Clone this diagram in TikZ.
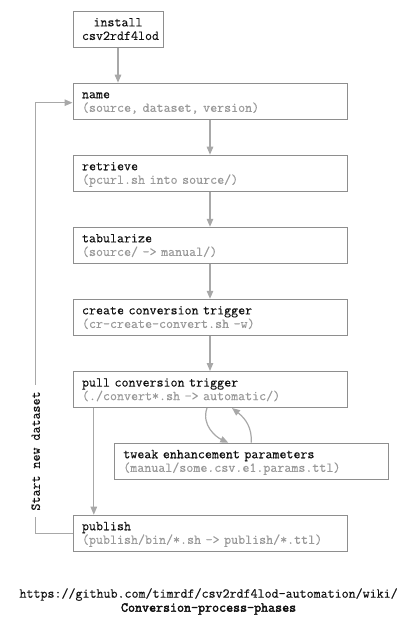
\documentclass[tikz,border=0pt]{standalone}
\usepackage{fontspec}
\newfontfamily\monoreg{Latin Modern Mono}[FakeBold=0.25]
\newfontfamily\monobold{Latin Modern Mono}[FakeBold=2.6]
\usetikzlibrary{arrows.meta,calc}
\definecolor{boxc}{HTML}{8E8E8E}
\definecolor{arrc}{HTML}{A8A8A8}
\definecolor{subc}{HTML}{999999}
\definecolor{titc}{HTML}{111111}
\newcommand{\mono}{\monoreg\fontsize{13.6}{13.6}\selectfont}
\newcommand{\hstrut}{\rule{0pt}{11pt}}
\newcommand{\dstrut}{\rule[-3.3pt]{0pt}{3.3pt}}
\tikzset{
  stepbox/.style={draw=boxc, line width=1pt, fill=white, font=\mono, text=titc,
    align=left, inner xsep=9pt, inner ysep=0pt, minimum height=36pt, text width=256pt},
  arr/.style={draw=arrc, line width=1.2pt, -{Triangle[length=8pt,width=6.5pt]}},
}
\newcommand{\sub}[1]{\textcolor{subc}{#1}\dstrut}
\begin{document}
\begin{tikzpicture}[x=1pt,y=-1pt]
\useasboundingbox (0,0) rectangle (419,625);
\node[stepbox, text width=72pt, align=center] (install) at (118,29.3) {\hstrut install\\csv2rdf4lod\dstrut};
\node[stepbox] (name) at (210,101.2) {\hstrut name\\\sub{(source, dataset, version)}};
\node[stepbox] (retrieve) at (210,173.2) {\hstrut retrieve\\\sub{(pcurl.sh into source/)}};
\node[stepbox] (tab) at (210,245.3) {\hstrut tabularize\\\sub{(source/ -> manual/)}};
\node[stepbox] (create) at (210,317.3) {\hstrut create conversion trigger\\\sub{(cr-create-convert.sh -w)}};
\node[stepbox] (pull) at (210,389.5) {\hstrut pull conversion trigger\\\sub{(./convert*.sh -> automatic/)}};
\node[stepbox] (tweak) at (251.3,461.2) {\hstrut tweak enhancement parameters\\\sub{(manual/some.csv.e1.params.ttl)}};
\node[stepbox] (publish) at (210,533.2) {\hstrut publish\\\sub{(publish/bin/*.sh -> publish/*.ttl)}};

\draw[arr] (install) -- (install |- name.north);
\draw[arr] (name) -- (retrieve);
\draw[arr] (retrieve) -- (tab);
\draw[arr] (tab) -- (create);
\draw[arr] (create) -- (pull);

\path (pull.south west) ++(21.3,0) coordinate (b1);
\draw[arr] (b1) -- (b1 |- publish.north);

\path (pull.south) ++(-3,0) coordinate (c1);
\path (tweak.north) ++(-23,0) coordinate (c2);
\draw[arr] (c1) .. controls (201,425) and (216,437) .. (c2);
\path (pull.south) ++(22,0) coordinate (d2);
\draw[arr] (tweak.north) .. controls (252,428) and (246,419) .. (d2);

\coordinate (lp) at (35.7,102.7);
\draw[arr] (publish.west) -| (lp) -- (lp -| name.west);
\node[fill=white, rotate=90, font=\mono, text=titc, inner xsep=6pt, inner ysep=1pt] (startlbl) at (35.7,451) {Start new dataset};

\node[font=\mono, text=titc, anchor=base, inner sep=0pt] (url) at (208.6,597.7) {https://github.com/timrdf/csv2rdf4lod-automation/wiki/};
\node[font=\monobold\fontsize{13.6}{13.6}\selectfont, text=titc, anchor=base, inner sep=0pt] (page) at (208.6,611.7) {Conversion-process-phases};
\end{tikzpicture}
\end{document}
